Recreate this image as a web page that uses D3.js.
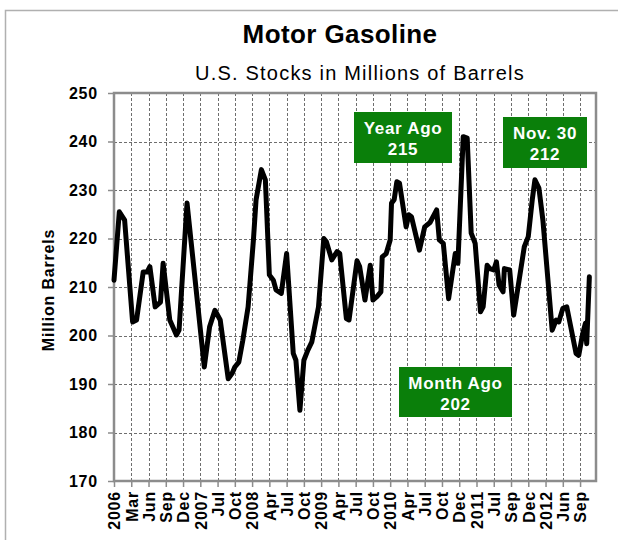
<!DOCTYPE html>
<html>
<head>
<meta charset="utf-8">
<script src="https://cdn.jsdelivr.net/npm/d3@7"></script>
<style>
    body { margin: 0; background: #fff; }
    #graph { width: 618px; height: 540px; }
    text { font-family: "Liberation Sans", Arial, sans-serif; }
</style>
</head>
<body>
<div id="graph"></div>
<script>
"use strict";

// weekly stocks, week 0 = first week of Jan 2006
var weeks = [0, 4, 8, 14, 17, 22, 25, 27, 31, 35, 37, 42, 47, 49, 55, 68, 72, 76, 80, 86,
    89, 91, 94, 97, 101, 105, 107, 111, 114, 117, 120, 122, 126, 130, 135, 137, 140, 143, 146, 149,
    154, 158, 160, 164, 168, 170, 175, 177, 183, 185, 189, 193, 195, 198, 201, 202, 205, 208, 209, 211,
    213, 215, 220, 222, 224, 230, 234, 238, 243, 245, 248, 252, 257, 259, 263, 266, 269, 272, 276, 278,
    281, 283, 286, 288, 290, 293, 294, 298, 301, 309, 312, 315, 317, 320, 323, 330, 333, 335, 338, 341,
    348, 350, 353, 355, 356, 358];
var stocks = [211.4, 225.5, 223.8, 202.8, 203.2, 213.1, 213.1, 214.2, 205.9, 206.9, 214.9, 203.2, 200.1, 201.1, 227.3, 193.5, 201.8, 205.2, 203.2, 191.1,
    192.2, 193.5, 194.5, 199.0, 205.9, 219.7, 228.0, 234.2, 232.1, 212.5, 211.4, 209.4, 208.7, 216.9, 196.3, 194.9, 184.6, 194.9, 197.0, 198.7,
    205.9, 220.0, 219.3, 215.6, 217.3, 216.9, 203.5, 203.2, 215.4, 214.2, 207.3, 214.5, 207.3, 208.0, 209.0, 216.2, 216.9, 219.7, 227.3, 228.0,
    231.7, 231.4, 222.4, 224.9, 224.5, 217.6, 222.4, 223.3, 225.9, 219.7, 219.0, 207.6, 216.9, 214.9, 241.0, 240.7, 221.1, 219.0, 204.9, 205.9,
    214.5, 213.8, 213.5, 215.2, 210.4, 209.0, 213.8, 213.5, 204.2, 218.3, 220.4, 228.0, 232.1, 230.4, 223.8, 201.1, 203.2, 202.8, 205.6, 205.9,
    196.3, 195.9, 200.4, 202.5, 198.3, 212.1];

// category labels, one every 13 weeks
var xLabels = ["2006", "Mar", "Jun", "Sep", "Dec", "2007", "Jul", "Oct", "2008", "Apr", "Jul", "Oct",
    "2009", "Apr", "Jul", "Oct", "2010", "Apr", "Jul", "Oct", "Dec", "2011", "Jul", "Sep", "Dec",
    "2012", "Jun", "Sep"];
var yTicks = [170, 180, 190, 200, 210, 220, 230, 240, 250];

var notes = [
    {line1: "Year Ago", line2: "215"},
    {line1: "Nov. 30", line2: "212"},
    {line1: "Month Ago", line2: "202"}
];

var width = 618, height = 540;
var margin = {top: 93, left: 114, bottom: 59, right: 22};

var svg = d3.select("#graph").append("svg")
    .attr("width", width)
    .attr("height", height);

var x = d3.scaleLinear().domain([0, 363]).range([margin.left, width - margin.right]);
var y = d3.scaleLinear().domain([170, 250]).range([height - margin.bottom, margin.top]);

// outer chart frame (only top/left visible in the shot)
svg.append("rect")
    .attr("x", 5.5).attr("y", 10.5)
    .attr("width", 640).attr("height", 560)
    .attr("fill", "none")
    .attr("stroke", "#b0b0b0")
    .attr("stroke-width", 1.5);

svg.append("text")
    .attr("x", 340).attr("y", 43)
    .attr("text-anchor", "middle")
    .attr("font-size", 26).attr("font-weight", "bold")
    .style("letter-spacing", "0.4px")
    .text("Motor Gasoline");

svg.append("text")
    .attr("x", 360).attr("y", 80)
    .attr("text-anchor", "middle")
    .attr("font-size", 20)
    .style("letter-spacing", "1.2px")
    .text("U.S. Stocks in Millions of Barrels");

svg.append("text")
    .attr("transform", "translate(54,290) rotate(-90)")
    .attr("text-anchor", "middle")
    .attr("font-size", 16).attr("font-weight", "bold")
    .style("letter-spacing", "0.8px")
    .text("Million Barrels");

// grid
var grid = svg.append("g").attr("class", "grid")
    .attr("stroke", "#6e6e6e")
    .attr("stroke-width", 1)
    .attr("stroke-dasharray", "3,2");

grid.selectAll("line.h")
    .data(yTicks.slice(1, -1))
    .enter().append("line")
    .attr("class", "h")
    .attr("x1", margin.left).attr("x2", width - margin.right)
    .attr("y1", function (d) { return Math.round(y(d)) + 0.5; })
    .attr("y2", function (d) { return Math.round(y(d)) + 0.5; });

grid.selectAll("line.v")
    .data(xLabels.slice(1))
    .enter().append("line")
    .attr("class", "v")
    .attr("y1", margin.top).attr("y2", height - margin.bottom)
    .attr("x1", function (d, i) { return Math.round(x((i + 1) * 13)) + 0.5; })
    .attr("x2", function (d, i) { return Math.round(x((i + 1) * 13)) + 0.5; });

// axes
var yAxis = d3.axisLeft(y)
    .tickValues(yTicks)
    .tickSize(6)
    .tickPadding(10)
    .tickFormat(d3.format("d"));

var yG = svg.append("g")
    .attr("transform", "translate(" + margin.left + ",0)")
    .call(yAxis);

var xAxis = d3.axisBottom(x)
    .tickValues(d3.range(xLabels.length).map(function (i) { return i * 13; }))
    .tickSize(6)
    .tickFormat(function (d) { return xLabels[d / 13]; });

var xG = svg.append("g")
    .attr("transform", "translate(0," + (height - margin.bottom) + ")")
    .call(xAxis);

[yG, xG].forEach(function (g) {
    g.select(".domain").remove();
    g.selectAll(".tick line").attr("stroke", "#8c8c8c").attr("stroke-width", 1.5);
    g.selectAll(".tick text")
        .attr("fill", "#000")
        .attr("font-size", 16)
        .attr("font-weight", "bold")
        .style("letter-spacing", "0.8px");
});

xG.selectAll(".tick text")
    .attr("transform", "translate(0,10) rotate(-90)")
    .attr("text-anchor", "end")
    .attr("x", 0).attr("y", 0)
    .attr("dy", "0.36em");

// plot frame
svg.append("rect")
    .attr("x", margin.left).attr("y", margin.top)
    .attr("width", width - margin.left - margin.right)
    .attr("height", height - margin.top - margin.bottom)
    .attr("fill", "none")
    .attr("stroke", "#8c8c8c")
    .attr("stroke-width", 2.5);

// series
var line = d3.line()
    .x(function (d) { return x(d[0]); })
    .y(function (d) { return y(d[1]); });

svg.append("path")
    .datum(d3.zip(weeks, stocks))
    .attr("fill", "none")
    .attr("stroke", "#000")
    .attr("stroke-width", 5)
    .attr("stroke-linejoin", "round")
    .attr("stroke-linecap", "round")
    .attr("d", line);

// callout boxes
var boxPos = [
    {x: 354, y: 112, w: 98, h: 51},
    {x: 503, y: 117, w: 84, h: 51},
    {x: 399, y: 367, w: 113, h: 50}
];

var box = svg.selectAll("g.note")
    .data(notes)
    .enter().append("g")
    .attr("class", "note")
    .attr("transform", function (d, i) { return "translate(" + boxPos[i].x + "," + boxPos[i].y + ")"; });

box.append("rect")
    .attr("width", function (d, i) { return boxPos[i].w; })
    .attr("height", function (d, i) { return boxPos[i].h; })
    .attr("fill", "#0a7f0a");

box.append("text")
    .attr("x", function (d, i) { return boxPos[i].w / 2; })
    .attr("y", 22)
    .attr("text-anchor", "middle")
    .attr("fill", "#fff")
    .attr("font-size", 17).attr("font-weight", "bold")
    .style("letter-spacing", "0.7px")
    .text(function (d) { return d.line1; });

box.append("text")
    .attr("x", function (d, i) { return boxPos[i].w / 2; })
    .attr("y", 43)
    .attr("text-anchor", "middle")
    .attr("fill", "#fff")
    .attr("font-size", 17).attr("font-weight", "bold")
    .style("letter-spacing", "0.7px")
    .text(function (d) { return d.line2; });
</script>
</body>
</html>
